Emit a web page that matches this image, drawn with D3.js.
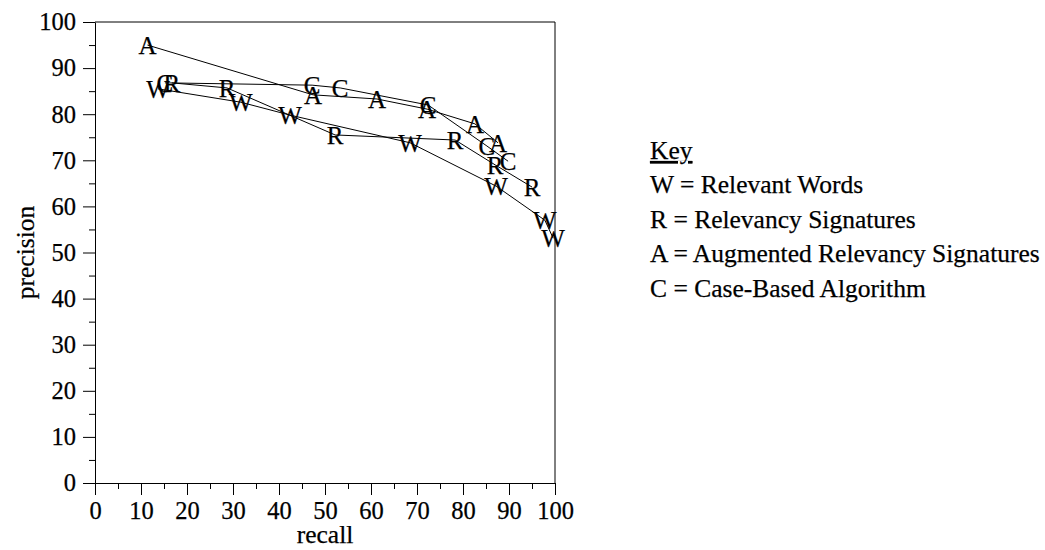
<!DOCTYPE html>
<html>
<head>
<meta charset="utf-8">
<script src="https://cdn.jsdelivr.net/npm/d3@7"></script>
<style>
  html, body { margin: 0; padding: 0; background: #fff; }
  svg { display: block; }
  text { font-family: "Liberation Serif", "Times New Roman", serif; fill: #000; }
</style>
</head>
<body>
<svg id="chart" width="1045" height="550"></svg>
<script>
// Precision / recall measurements for four text classification methods
const wRecall    = [13.7, 31.7, 42.4, 68.5, 87.2, 97.8, 99.6];
const wPrecision = [85.5, 82.6, 79.8, 73.8, 64.4, 57.0, 53.1];

const rRecall    = [16.7, 28.7, 52.2, 78.3, 87.0, 95.0];
const rPrecision = [86.8, 85.7, 75.5, 74.4, 69.0, 64.2];

const aRecall    = [11.4, 47.4, 61.3, 72.2, 82.6, 87.6];
const aPrecision = [95.0, 84.2, 83.3, 81.1, 77.9, 73.8];

const cRecall    = [15.2, 47.2, 53.3, 72.4, 85.2, 89.8];
const cPrecision = [86.8, 86.3, 85.7, 82.0, 73.1, 69.8];

const legendLabels = [
  "W = Relevant Words",
  "R = Relevancy Signatures",
  "A = Augmented Relevancy Signatures",
  "C = Case-Based Algorithm"
];
const majorTicks = d3.range(0, 101, 10);
const minorTicks = d3.range(5, 100, 10);

const series = [
  { sym: "W", xs: wRecall, ys: wPrecision },
  { sym: "R", xs: rRecall, ys: rPrecision },
  { sym: "A", xs: aRecall, ys: aPrecision },
  { sym: "C", xs: cRecall, ys: cPrecision }
];

const svg = d3.select("#chart");
const x = d3.scaleLinear().domain([0, 100]).range([95, 555]);
const y = d3.scaleLinear().domain([0, 100]).range([483, 22]);
const TICK_FS = 24.5, MARK_FS = 25, KEY_FS = 25.5, TITLE_FS = 25.5;
const thicken = sel => sel.attr("stroke", "#000").attr("stroke-width", 0.25);

// frame: top and right edges
svg.append("path")
  .attr("d", `M${x(0)},${y(100)}H${x(100)}V${y(0)}`)
  .attr("fill", "none").attr("stroke", "#000").attr("stroke-width", 1);

// x axis
const gx = svg.append("g").attr("transform", `translate(0,${y(0)})`);
gx.call(d3.axisBottom(x).tickValues(majorTicks).tickSize(12).tickPadding(7).tickSizeOuter(0));
gx.append("g").call(d3.axisBottom(x).tickValues(minorTicks).tickSize(6).tickFormat("").tickSizeOuter(0))
  .select(".domain").remove();

// y axis
const gy = svg.append("g").attr("transform", `translate(${x(0)},0)`);
gy.call(d3.axisLeft(y).tickValues(majorTicks).tickSize(12).tickPadding(7).tickSizeOuter(0));
gy.append("g").call(d3.axisLeft(y).tickValues(minorTicks).tickSize(6).tickFormat("").tickSizeOuter(0))
  .select(".domain").remove();

svg.selectAll(".tick line, .domain").attr("stroke", "#000").attr("stroke-width", 1);
svg.selectAll(".tick text")
  .style("font-family", "'Liberation Serif', 'Times New Roman', serif")
  .attr("font-size", TICK_FS).attr("fill", "#000")
  .call(thicken);

// axis titles
svg.append("text")
  .attr("x", x(50)).attr("y", 543)
  .attr("text-anchor", "middle").attr("font-size", TITLE_FS)
  .text("recall").call(thicken);
svg.append("text")
  .attr("transform", `translate(34,${y(50)}) rotate(-90)`)
  .attr("text-anchor", "middle").attr("font-size", TITLE_FS)
  .text("precision").call(thicken);

// series: connecting lines then letter markers
const line = d3.line().x(d => x(d[0])).y(d => y(d[1]));
series.forEach(s => {
  const pts = s.xs.map((v, i) => [v, s.ys[i]]);
  svg.append("path")
    .datum(pts)
    .attr("d", line)
    .attr("fill", "none")
    .attr("stroke", "#000")
    .attr("stroke-width", 1);
});
series.forEach(s => {
  const pts = s.xs.map((v, i) => [v, s.ys[i]]);
  svg.append("g").selectAll("text")
    .data(pts)
    .join("text")
    .attr("x", d => x(d[0]))
    .attr("y", d => y(d[1]))
    .attr("dy", "0.35em")
    .attr("text-anchor", "middle")
    .attr("font-size", MARK_FS)
    .text(s.sym)
    .call(thicken);
});

// key
const key = svg.append("g").attr("transform", "translate(650,0)");
key.append("text")
  .attr("x", 0).attr("y", 159)
  .attr("font-size", KEY_FS)
  .attr("text-decoration", "underline")
  .text("Key").call(thicken);
key.selectAll("text.entry")
  .data(legendLabels)
  .join("text")
  .attr("class", "entry")
  .attr("x", 0)
  .attr("y", (d, i) => 193 + i * 34.5)
  .attr("font-size", KEY_FS)
  .text(d => d)
  .call(thicken);
</script>
</body>
</html>
